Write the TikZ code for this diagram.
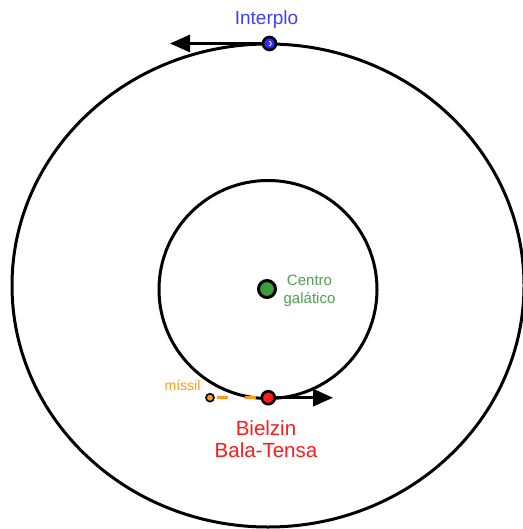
\documentclass[tikz,border=0pt]{standalone}
\usepackage{fontspec}
\setmainfont{Liberation Sans}
\usetikzlibrary{arrows.meta}
\definecolor{cblue}{HTML}{2B2BFF}
\definecolor{cbluetxt}{HTML}{3F3FFF}
\definecolor{cgreen}{HTML}{3C9C3C}
\definecolor{cgreentxt}{HTML}{4F9F4F}
\definecolor{cred}{HTML}{FF1A1A}
\definecolor{corange}{HTML}{FF9A1A}
\tikzset{
  orbit/.style={draw=black, line width=3pt},
  dot/.style={circle, draw=black, line width=2.6pt, inner sep=0pt, minimum size=13pt},
  smalldot/.style={circle, draw=black, line width=1.6pt, inner sep=0pt, minimum size=8pt, fill=corange},
  vel/.style={draw=black, line width=3pt, -{Triangle[length=20pt, width=17pt]}},
  trail/.style={draw=corange, line width=3pt, dash pattern=on 11pt off 17pt},
  lbl/.style={inner sep=0pt, align=center}
}
\begin{document}
\begin{tikzpicture}[x=1pt, y=-1pt]
\useasboundingbox (0,0) rectangle (522,529);
% orbits
\draw[orbit] (268,285.5) ellipse [x radius=256, y radius=241.5];
\draw[orbit] (268,289.5) circle [radius=109];
% galactic centre
\node[dot, fill=cgreen, minimum size=17pt, line width=3pt] (centro) at (267,289) {};
\node[lbl, text=cgreentxt, font=\fontsize{15}{17.5}\selectfont, anchor=north] (centrolbl) at (309.5,275) {Centro\\galático};
% Interplo
\node[dot, fill=cblue] (interplo) at (269.5,43.5) {};
\draw[white, line width=0.9pt] ([xshift=-0.5pt]interplo.center) ++(90:2.2pt) arc[start angle=90, end angle=-90, radius=2.2pt];
\coordinate (itip) at (170,43.5);
\draw[vel] (interplo.west) -- (itip);
\node[lbl, text=cbluetxt, font=\fontsize{19}{21}\selectfont, anchor=base] (interplolbl) at (266.5,25) {Interplo};
% Bielzin
\node[dot, fill=cred] (bielzin) at (268.3,397.7) {};
\coordinate (btip) at (333,397.7);
\draw[vel] (bielzin.east) -- (btip);
\node[lbl, text=cred, font=\fontsize{20.5}{21.6}\selectfont, anchor=north] (bielzinlbl) at (266,420.5) {Bielzin\\Bala-Tensa};
% missile
\node[smalldot] (missil) at (210,397.7) {};
\draw[trail, shorten <=2pt] (missil.east) -- (bielzin.west);
\node[lbl, text=corange, font=\fontsize{14}{16}\selectfont, anchor=base] (missillbl) at (182.5,390) {míssil};
\end{tikzpicture}
\end{document}
